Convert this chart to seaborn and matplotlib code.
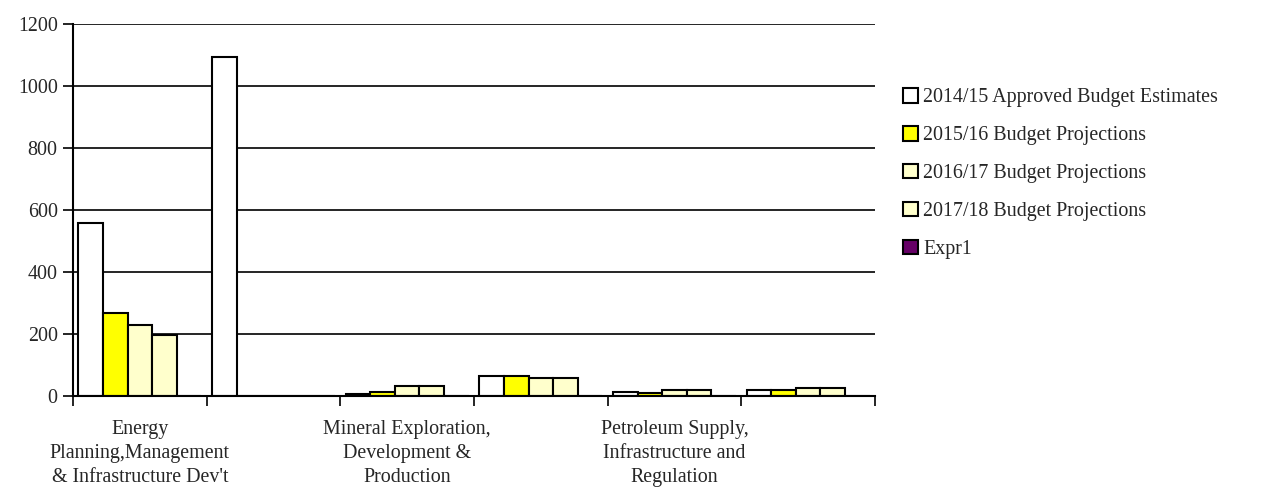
import matplotlib
matplotlib.use("Agg")
import matplotlib.pyplot as plt
import seaborn as sns
import pandas as pd
import numpy as np

categories = [
    "Energy\nPlanning,Management\n& Infrastructure Dev't",
    "Category 2",
    "Mineral Exploration,\nDevelopment &\nProduction",
    "Category 4",
    "Petroleum Supply,\nInfrastructure and\nRegulation",
    "Category 6",
]
shown_labels = [True, False, True, False, True, False]

series = [
    "2014/15 Approved Budget Estimates",
    "2015/16 Budget Projections",
    "2016/17 Budget Projections",
    "2017/18 Budget Projections",
    "Expr1",
]
v2014 = [559, 1095, 5, 65, 12, 18]
v2015 = [268, 0, 12, 65, 10, 18]
v2016 = [229, 0, 33, 59, 18, 26]
v2017 = [198, 0, 33, 59, 18, 26]
vexpr = [0, 0, 0, 0, 0, 0]
colors = ["#FFFFFF", "#FFFF00", "#FFFFCC", "#FFFFCC", "#660066"]

yticks = [0, 200, 400, 600, 800, 1000, 1200]

rows = []
for s, vals in zip(series, [v2014, v2015, v2016, v2017, vexpr]):
    for c, v in zip(categories, vals):
        rows.append({"category": c, "series": s, "value": v})
df = pd.DataFrame(rows)

sns.set_theme(style="white")
plt.rcParams["font.family"] = ["Liberation Serif", "DejaVu Serif"]

FS = 14.4
fig = plt.figure(figsize=(12.67, 4.97), dpi=100)
ax = fig.add_axes([73/1267, 1-396/497, (875-73)/1267, (396-24)/497])

sns.barplot(data=df, x="category", y="value", hue="series", order=categories,
            hue_order=series, palette=colors, edgecolor="black", linewidth=1.5,
            width=0.92, gap=0, ax=ax, saturation=1, legend=True)

ax.set_xlim(-0.5, len(categories) - 0.5)
ax.set_ylim(0, 1200)
ax.set_yticks(yticks)
ax.set_yticklabels([str(t) for t in yticks], fontsize=FS)
ax.yaxis.grid(True, color="black", linewidth=1.2)
ax.set_axisbelow(True)
for sp in ["top", "right"]:
    ax.spines[sp].set_visible(False)
for sp in ["left", "bottom"]:
    ax.spines[sp].set_color("black")
    ax.spines[sp].set_linewidth(1.5)

ax.set_xticks(range(len(categories)))
ax.set_xticklabels([c if s else "" for c, s in zip(categories, shown_labels)],
                   fontsize=FS, linespacing=1.38)
ax.tick_params(axis="x", which="major", length=0, pad=17)
ax.set_xticks(np.arange(-0.5, len(categories), 1.0), minor=True)
ax.tick_params(axis="x", which="minor", length=7, width=1.2, color="black", direction="out", bottom=True)
ax.tick_params(axis="y", length=7, width=1.2, color="black", direction="out", left=True, pad=4)
ax.set_xlabel("")
ax.set_ylabel("")

handles, labels = ax.get_legend_handles_labels()
ax.legend(handles, labels, loc="upper left", bbox_to_anchor=(903/1267, 1-88/497),
          bbox_transform=fig.transFigure, frameon=False, fontsize=FS,
          handlelength=0.75, handleheight=0.75, handletextpad=0.25, labelspacing=0.93,
          borderaxespad=0, borderpad=0)

fig.savefig("out.png", dpi=100)
